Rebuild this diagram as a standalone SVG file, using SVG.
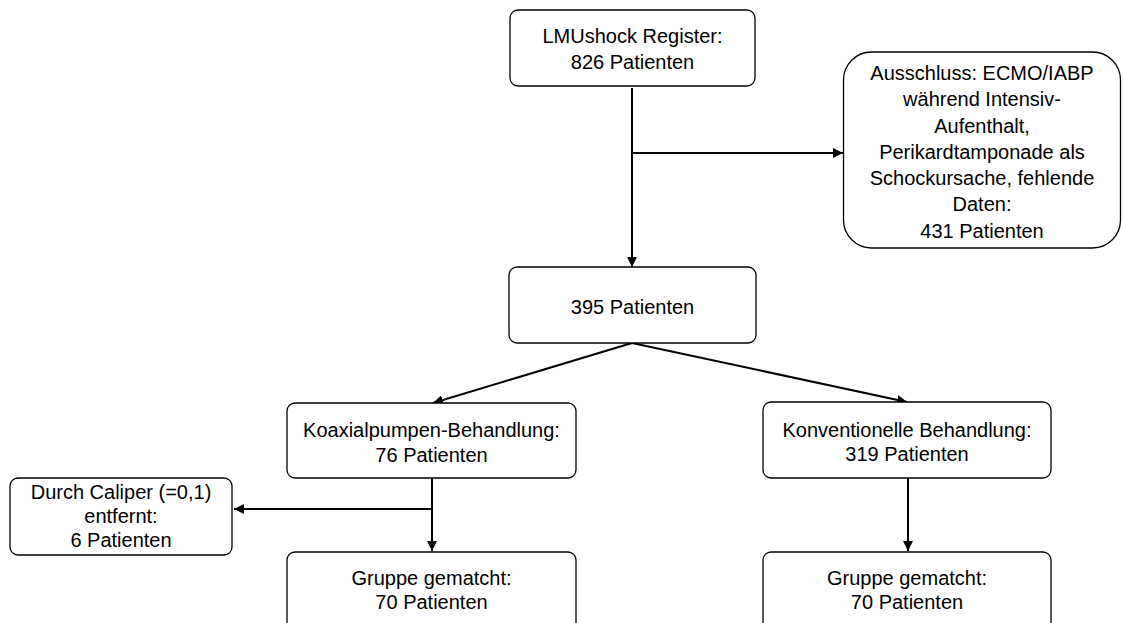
<svg xmlns="http://www.w3.org/2000/svg" width="1123" height="623" viewBox="0 0 1123 623">
<style>
.box{fill:#fff;stroke:#000;stroke-width:1.3}
.t{font-family:"Liberation Sans",Arial,sans-serif;font-size:20px;fill:#000;text-anchor:middle}
.c{fill:none;stroke:#000;stroke-width:2}
</style>
<defs>
<marker id="ah" viewBox="0 0 10 10" refX="10" refY="5" markerWidth="5" markerHeight="5" markerUnits="strokeWidth" orient="auto">
<path d="M0,0 L10,5 L0,10 z" fill="#000"/>
</marker>
</defs>
<rect width="1123" height="623" fill="#fff"/>
<g id="connectors">
<line class="c" x1="632" y1="88" x2="632" y2="267" marker-end="url(#ah)"/>
<line class="c" x1="632" y1="153" x2="843" y2="153" marker-end="url(#ah)"/>
<line class="c" x1="632" y1="343" x2="433" y2="403" marker-end="url(#ah)"/>
<line class="c" x1="632" y1="343" x2="907" y2="402" marker-end="url(#ah)"/>
<line class="c" x1="432" y1="478" x2="432" y2="551" marker-end="url(#ah)"/>
<line class="c" x1="432" y1="509" x2="234" y2="509" marker-end="url(#ah)"/>
<line class="c" x1="908" y1="478" x2="908" y2="551" marker-end="url(#ah)"/>
</g>
<g id="n1">
<rect class="box" x="510" y="10" width="245" height="76" rx="8"/>
<text class="t" x="632.5" y="43">LMUshock Register:</text>
<text class="t" x="632.5" y="68.5">826 Patienten</text>
</g>
<g id="n2">
<rect class="box" x="843.5" y="52" width="277" height="196" rx="28"/>
<text class="t" x="982" y="80">Ausschluss: ECMO/IABP</text>
<text class="t" x="982" y="106">während Intensiv-</text>
<text class="t" x="982" y="133">Aufenthalt,</text>
<text class="t" x="982" y="159">Perikardtamponade als</text>
<text class="t" x="982" y="185">Schockursache, fehlende</text>
<text class="t" x="982" y="211">Daten:</text>
<text class="t" x="982" y="238">431 Patienten</text>
</g>
<g id="n3">
<rect class="box" x="509" y="267" width="247" height="76" rx="8"/>
<text class="t" x="632.5" y="314">395 Patienten</text>
</g>
<g id="n4">
<rect class="box" x="287" y="403" width="289" height="75" rx="8"/>
<text class="t" x="431.5" y="437">Koaxialpumpen-Behandlung:</text>
<text class="t" x="431.5" y="461.5">76 Patienten</text>
</g>
<g id="n5">
<rect class="box" x="763" y="402" width="288" height="76" rx="8"/>
<text class="t" x="907" y="436.5">Konventionelle Behandlung:</text>
<text class="t" x="907" y="461">319 Patienten</text>
</g>
<g id="n6">
<rect class="box" x="10" y="478" width="222" height="77" rx="8"/>
<text class="t" x="121" y="498.5">Durch Caliper (=0,1)</text>
<text class="t" x="121" y="523">entfernt:</text>
<text class="t" x="121" y="547">6 Patienten</text>
</g>
<g id="n7">
<rect class="box" x="287" y="552" width="289" height="90" rx="8"/>
<text class="t" x="431.5" y="585">Gruppe gematcht:</text>
<text class="t" x="431.5" y="608.5">70 Patienten</text>
</g>
<g id="n8">
<rect class="box" x="763" y="552" width="288" height="90" rx="8"/>
<text class="t" x="907" y="585">Gruppe gematcht:</text>
<text class="t" x="907" y="608.5">70 Patienten</text>
</g>
</svg>
